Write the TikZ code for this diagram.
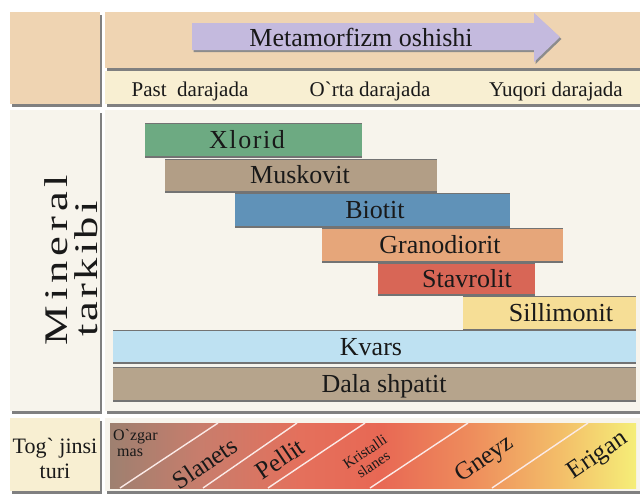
\documentclass[tikz,border=0pt]{standalone}
\usepackage{fontspec}
\setmainfont{Liberation Serif}
\usetikzlibrary{shadows}

\definecolor{peach}{RGB}{239,212,178}
\definecolor{cream}{RGB}{248,239,210}
\definecolor{paper}{RGB}{247,244,236}
\definecolor{lilac}{RGB}{196,186,222}
\definecolor{xloridc}{RGB}{109,170,130}
\definecolor{muskovitc}{RGB}{178,158,134}
\definecolor{biotitc}{RGB}{96,146,184}
\definecolor{granoc}{RGB}{230,166,122}
\definecolor{stavroc}{RGB}{216,102,86}
\definecolor{sillic}{RGB}{246,222,150}
\definecolor{kvarsc}{RGB}{190,225,242}
\definecolor{dalac}{RGB}{182,164,140}
\definecolor{rk0}{RGB}{158,128,112}
\definecolor{rk1}{RGB}{200,125,108}
\definecolor{rk2}{RGB}{228,112,92}
\definecolor{rk3}{RGB}{232,104,84}
\definecolor{rk4}{RGB}{238,140,92}
\definecolor{rk5}{RGB}{243,190,105}
\definecolor{rk6}{RGB}{245,238,120}

% rock types, from unchanged to molten
\pgfdeclarehorizontalshading{rockband}{100bp}{color(0bp)=(rk0); color(25bp)=(rk0);
  color(33.6bp)=(rk1); color(43bp)=(rk2); color(50.7bp)=(rk3); color(59.2bp)=(rk4);
  color(67.8bp)=(rk5); color(75bp)=(rk6); color(100bp)=(rk6)}

\begin{document}
\begin{tikzpicture}[x=1pt, y=-1pt]
    \tikzstyle{panel} = [drop shadow={shadow xshift=2pt, shadow yshift=-2.5pt, fill=black!50, opacity=1}]
    \tikzstyle{bar} = [path picture={
        \draw[black!55, line width=2.4pt]
          (path picture bounding box.north west) -- (path picture bounding box.north east)
          (path picture bounding box.south west) -- (path picture bounding box.south east);}]
    \tikzstyle{bartext} = [anchor=base, inner sep=0pt, text=black!90, font=\fontsize{26}{28}\selectfont]
    \tikzstyle{level} = [anchor=base, inner sep=0pt, text=black!90, font=\fontsize{21}{24}\selectfont]
    \tikzstyle{rock} = [rotate=34, inner sep=0pt, text=black!90, font=\fontsize{25}{27}\selectfont]
    \tikzstyle{split} = [draw=white!85!rk2, line width=1.4pt]
    \useasboundingbox (0,0) rectangle (640,496);
    \fill[white] (0,0) rectangle (640,496);

    % frame
    \path[panel, fill=peach] (10,12) rectangle (100,104);
    \path[panel, fill=peach] (105,12) rectangle (645,68);
    \path[panel, fill=cream] (105,71) rectangle (645,104);
    \path[panel, fill=paper] (10,110) rectangle (100,411);
    \path[panel, fill=paper] (105,110) rectangle (645,411);
    \path[panel, fill=cream] (10,418) rectangle (100,491);
    \path[panel, fill=paper] (105,418) rectangle (645,491);

    % grade arrow
    \path[fill=lilac, drop shadow={shadow xshift=1.5pt, shadow yshift=-2pt, fill=black!45, opacity=1}]
      (192,23) -- (534,23) -- (534,13) -- (560,37) -- (534,62) -- (534,50) -- (192,50) -- cycle;
    \node[anchor=base, inner sep=0pt, text=black!90, font=\fontsize{26}{28}\selectfont] (grade) at (361,46) {Metamorfizm oshishi};

    \node[level] (low) at (190,96) {Past\ \ darajada};
    \node[level] (mid) at (370,96) {O\textasciigrave rta darajada};
    \node[level] (high) at (556,96) {Yuqori darajada};

    % minerals
    \node[anchor=base, rotate=90, inner sep=0pt, text=black!90,
      font=\fontsize{33}{36}\selectfont\addfontfeature{LetterSpace=11}] (mineral) at (67,260) {\scalebox{1.35}[1]{Mineral}};
    \node[anchor=base, rotate=90, inner sep=0pt, text=black!90,
      font=\fontsize{33}{36}\selectfont\addfontfeature{LetterSpace=7}] (tarkibi) at (97,269) {\scalebox{1.35}[1]{tarkibi}};

    \path[bar, fill=xloridc] (145,123) rectangle (362,157);
    \node[bartext, font=\fontsize{26}{28}\selectfont\addfontfeature{LetterSpace=6}] (xlorid) at (247,148) {Xlorid};
    \path[bar, fill=muskovitc] (165,159) rectangle (437,192);
    \node[bartext] (muskovit) at (300,183) {Muskovit};
    \path[bar, fill=biotitc] (235,193) rectangle (510,227);
    \node[bartext] (biotit) at (375,218) {Biotit};
    \path[bar, fill=granoc] (322,228) rectangle (563,262);
    \node[bartext] (granodiorit) at (440,253) {Granodiorit};
    \path[bar, fill=stavroc] (378,263) rectangle (535,295);
    \node[bartext] (stavrolit) at (467,287) {Stavrolit};
    \path[bar, fill=sillic] (463,296) rectangle (636,330);
    \node[bartext] (sillimonit) at (561,321) {Sillimonit};
    \path[bar, fill=kvarsc] (113,330) rectangle (636,363);
    \node[bartext] (kvars) at (371,355) {Kvars};
    \path[bar, fill=dalac] (113,367) rectangle (636,401);
    \node[bartext] (dala) at (384,392) {Dala shpatit};

    % rock types
    \node[align=center, inner sep=0pt, text=black!90, font=\fontsize{22}{25}\selectfont] (tog) at (55,458) {Tog\textasciigrave\ jinsi\\turi};
    \path[shading=rockband] (110,423) rectangle (636,488);
    \draw[split] (120,488) -- (218,423);
    \draw[split] (203,488) -- (297,423);
    \draw[split] (268,488) -- (365,423);
    \draw[split] (370,488) -- (468,423);
    \draw[split] (492,488) -- (588,423);
    \node[align=left, anchor=north west, inner sep=0pt, text=black!90, font=\fontsize{16}{16}\selectfont] (ozgar) at (113,429) {O\textasciigrave zgar\\\ mas};
    \node[rock] (slanets) at (205,463) {Slanets};
    \node[rock] (pellit) at (280,459) {Pellit};
    \node[rock, align=center, font=\fontsize{15}{15}\selectfont] (kristalli) at (369,458) {Kristalli\\slanes};
    \node[rock] (gneyz) at (485,460) {Gneyz};
    \node[rock] (erigan) at (598,456) {Erigan};
\end{tikzpicture}
\end{document}
